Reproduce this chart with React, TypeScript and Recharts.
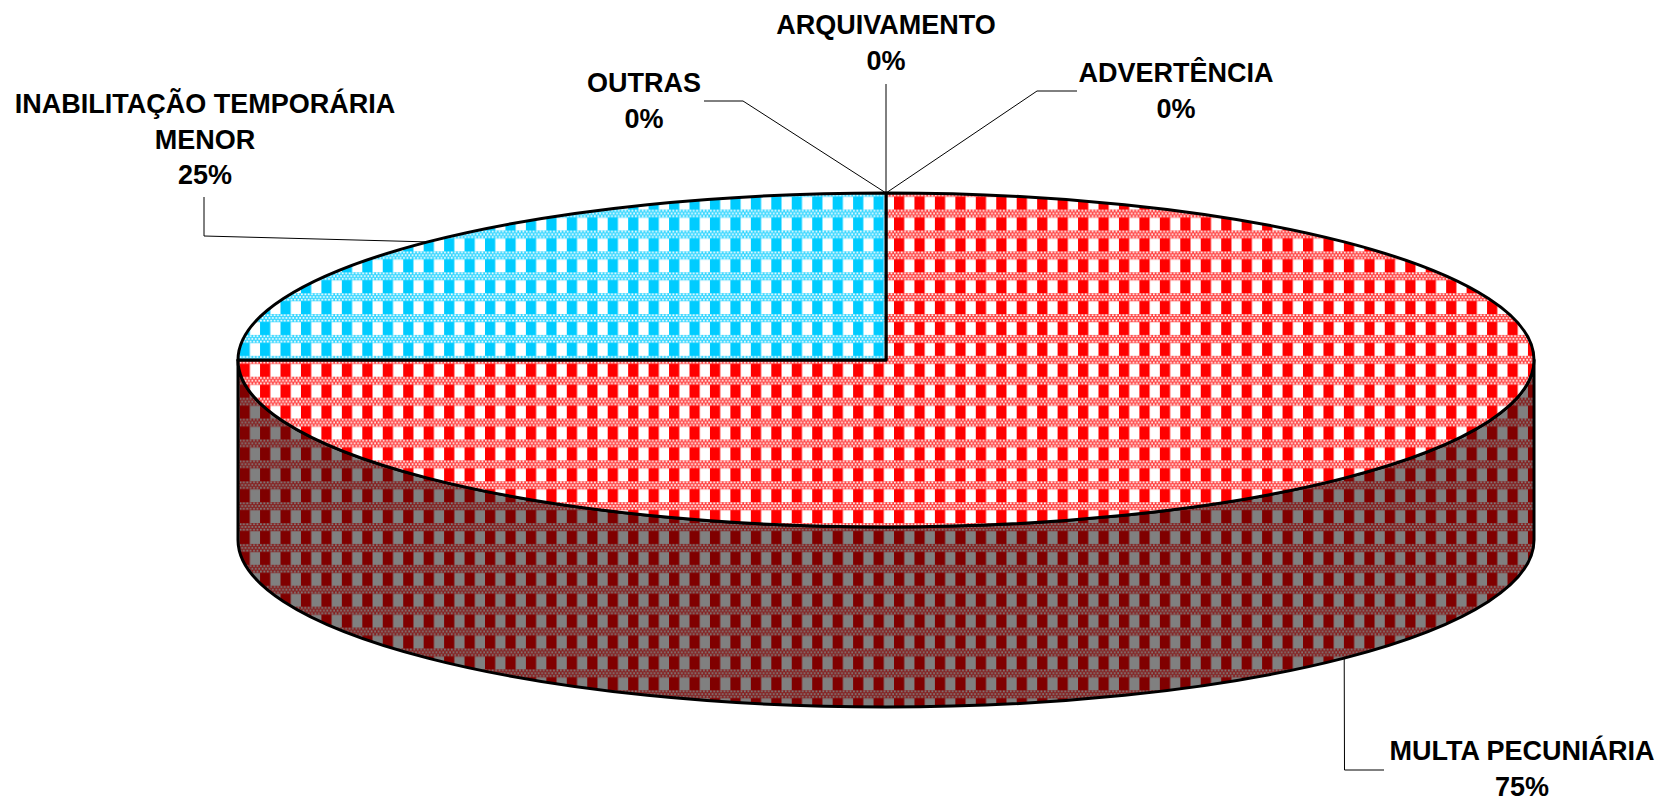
import { Pie, PieChart } from "recharts"

const categories = [
  "ADVERTÊNCIA",
  "MULTA PECUNIÁRIA",
  "INABILITAÇÃO TEMPORÁRIA\nMENOR",
  "OUTRAS",
  "ARQUIVAMENTO",
]
const shares = [0, 75, 25, 0, 0]
const topPatterns = ["url(#redCheck)", "url(#redCheck)", "url(#blueCheck)", "url(#blueCheck)", "url(#blueCheck)"]

const data = categories.map((name, i) => ({ name, value: shares[i], fill: topPatterns[i] }))

// label placement, one entry per category (text centre, first baseline, leader line points)
const labelLayout = [
  { x: 1176, y: 82, line: [[1077, 91], [1037, 91]] },
  { x: 1522, y: 760, line: [[1384, 770], [1344.5, 770]] },
  { x: 205, y: 113, line: [[204, 197], [204, 236]] },
  { x: 644, y: 92, line: [[704, 101], [743, 101]] },
  { x: 886, y: 34, line: [[886, 84]] },
]

const CX = 886
const CY = 360
const RX = 648
const RY = 167
const DEPTH = 180
const LINE_HEIGHT = 35.5

const point = (deg: number, dy = 0) => {
  const a = (deg * Math.PI) / 180
  return [CX + RX * Math.cos(a), CY - RY * Math.sin(a) + dy]
}

// the pie is circular in recharts, so the angles it computes are put on an ellipse here
function TopSlice(props: any) {
  const { startAngle, endAngle, fill } = props
  if (startAngle === endAngle) return <g />
  const [x1, y1] = point(startAngle)
  const [x2, y2] = point(endAngle)
  const large = Math.abs(startAngle - endAngle) > 180 ? 1 : 0
  return (
    <path
      d={`M${CX},${CY} L${x1},${y1} A${RX},${RY} 0 ${large} 1 ${x2},${y2} Z`}
      fill={fill}
      stroke="#000"
      strokeWidth={3}
      strokeLinejoin="round"
    />
  )
}

// only the part of a slice on the front half of the ellipse has a visible wall
function WallSlice(props: any) {
  const a1 = Math.min(props.startAngle, 0)
  const a2 = Math.max(props.endAngle, -180)
  if (a1 <= a2) return <g />
  const [x1, y1] = point(a1)
  const [x2, y2] = point(a2)
  return (
    <path
      d={`M${x1},${y1} A${RX},${RY} 0 0 1 ${x2},${y2} L${x2},${y2 + DEPTH} A${RX},${RY} 0 0 0 ${x1},${y1 + DEPTH} Z`}
      fill="url(#darkCheck)"
      stroke="#000"
      strokeWidth={3}
      strokeLinejoin="round"
    />
  )
}

function SliceLabel(props: any) {
  const { index, midAngle, percent, name } = props
  const layout = labelLayout[index]
  const front = midAngle < 0 && midAngle > -180 || midAngle > 180
  const anchor = point(midAngle, front ? DEPTH : 0)
  const pts = [...layout.line, anchor].map((p) => p.join(",")).join(" ")
  const lines = [...String(name).split("\n"), `${Math.round(percent * 100)}%`]
  return (
    <g>
      <polyline points={pts} fill="none" stroke="#000" strokeWidth={1} />
      <text
        textAnchor="middle"
        fontFamily="'Liberation Sans', Arial, sans-serif"
        fontWeight="bold"
        fontSize={27}
        fill="#000"
      >
        {lines.map((t, i) => (
          <tspan key={i} x={layout.x} y={layout.y + i * LINE_HEIGHT}>
            {t}
          </tspan>
        ))}
      </text>
    </g>
  )
}

function Check({ id, bar, gap, band }: { id: string; bar: string; gap: string; band: string }) {
  const w = 20.45
  const h = 20.9
  const dots = []
  for (let r = 0; r < 3; r++) {
    for (let c = 0; c < 6; c++) {
      dots.push(
        <rect key={`${r}-${c}`} x={c * 3.41 + (r % 2) * 1.7} y={r * 2.7 + 0.4} width={1.7} height={1.7} fill={gap} />
      )
    }
  }
  return (
    <pattern id={id} patternUnits="userSpaceOnUse" x={1016.7} y={314} width={w} height={h}>
      <rect width={w} height={h} fill={gap} />
      <rect width={w / 2} height={h} fill={bar} />
      <rect width={w} height={8.2} fill={band} />
      {dots}
    </pattern>
  )
}

export default function App() {
  return (
    <div style={{ position: "absolute", left: 0, top: 0, width: 1661, height: 798, background: "#fff" }}>
      <PieChart width={1661} height={798} margin={{ top: 0, right: 0, bottom: 0, left: 0 }}>
        <defs>
          <Check id="redCheck" bar="#ff0000" gap="#ffffff" band="#ff4040" />
          <Check id="blueCheck" bar="#00ccff" gap="#ffffff" band="#33d6ff" />
          <Check id="darkCheck" bar="#800000" gap="#808080" band="#852020" />
        </defs>
        <Pie
          data={data}
          dataKey="value"
          nameKey="name"
          cx={CX}
          cy={CY}
          outerRadius={RX}
          startAngle={90}
          endAngle={-270}
          shape={WallSlice}
          label={false}
          labelLine={false}
          isAnimationActive={false}
        />
        <Pie
          data={data}
          dataKey="value"
          nameKey="name"
          cx={CX}
          cy={CY}
          outerRadius={RX}
          startAngle={90}
          endAngle={-270}
          shape={TopSlice}
          label={SliceLabel}
          labelLine={false}
          isAnimationActive={false}
        />
      </PieChart>
    </div>
  )
}
